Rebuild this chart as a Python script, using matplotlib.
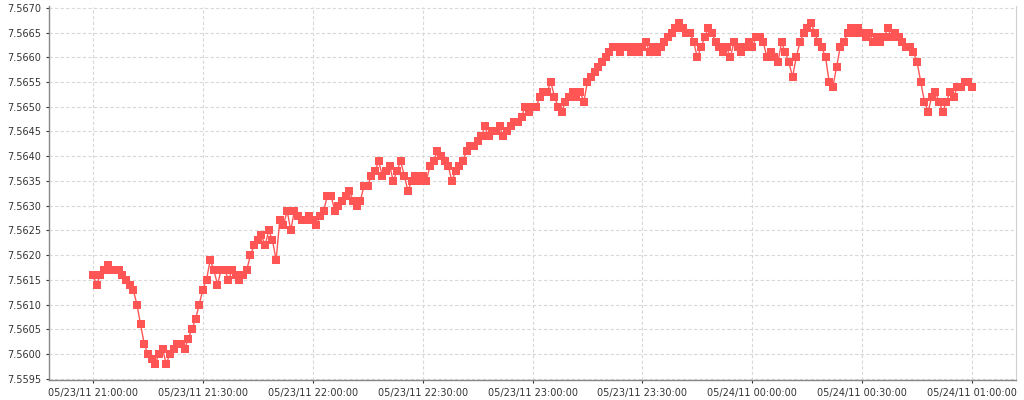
import datetime as dt

import matplotlib
matplotlib.use("Agg")
import matplotlib.pyplot as plt
import matplotlib.dates as mdates

# quote, one point per minute from 05/23/11 21:00
# stored as pips above 7.5600
start = dt.datetime(2011, 5, 23, 21, 0, 0)
pips = [
    16, 14, 16, 17, 18, 17, 17, 17, 16, 15,
    14, 13, 10, 6, 2, 0, -1, -2, 0, 1,
    -2, 0, 1, 2, 2, 1, 3, 5, 7, 10,
    13, 15, 19, 17, 14, 17, 17, 15, 17, 16,
    15, 16, 17, 20, 22, 23, 24, 22, 25, 23,
    19, 27, 26, 29, 25, 29, 28, 27, 27, 28,
    27, 26, 28, 29, 32, 32, 29, 30, 31, 32,
    33, 31, 30, 31, 34, 34, 36, 37, 39, 36,
    37, 38, 35, 37, 39, 36, 33, 35, 36, 35,
    36, 35, 38, 39, 41, 40, 39, 38, 35, 37,
    38, 39, 41, 42, 42, 43, 44, 46, 44, 45,
    45, 46, 44, 45, 46, 47, 47, 48, 50, 49,
    50, 50, 52, 53, 53, 55, 52, 50, 49, 51,
    52, 53, 52, 53, 51, 55, 56, 57, 58, 59,
    60, 61, 62, 62, 61, 62, 62, 61, 62, 61,
    62, 63, 61, 62, 61, 62, 63, 64, 65, 66,
    67, 66, 65, 65, 63, 60, 62, 64, 66, 65,
    63, 62, 61, 62, 60, 63, 62, 61, 62, 63,
    62, 64, 64, 63, 60, 61, 60, 59, 63, 61,
    59, 56, 60, 63, 65, 66, 67, 65, 63, 62,
    60, 55, 54, 58, 62, 63, 65, 66, 65, 66,
    65, 64, 65, 63, 64, 63, 64, 66, 64, 65,
    64, 63, 62, 62, 61, 59, 55, 51, 49, 52,
    53, 51, 49, 51, 53, 52, 54, 54, 55, 55,
    54,
]
y_ticks = [7.5595 + 0.0005 * i for i in range(16)]

times = [start + dt.timedelta(minutes=i) for i in range(len(pips))]
values = [7.56 + p * 0.0001 for p in pips]

fig = plt.figure(figsize=(10.24, 4.0), dpi=100)
ax = fig.add_axes([49 / 1024, 1 - 380 / 400, (1016 - 49) / 1024, (380 - 6.5) / 400])

ax.plot(times, values, color="#ff5555", linewidth=1.0, marker="s",
        markersize=6.0, markeredgewidth=0, zorder=3)

ax.set_xlim(start - dt.timedelta(minutes=12), start + dt.timedelta(hours=4, minutes=12))
ax.set_ylim(7.559474, 7.567026)
ax.set_yticks(y_ticks)
ax.yaxis.set_major_formatter(plt.FuncFormatter(lambda v, p: f"{v:.4f}"))
ax.xaxis.set_major_locator(mdates.MinuteLocator(byminute=[0, 30]))
ax.xaxis.set_major_formatter(mdates.DateFormatter("%m/%d/%y %H:%M:%S"))

ax.grid(True, color="#d8d8d8", linestyle=(0, (3, 2)), linewidth=0.8, zorder=0)
ax.tick_params(labelsize=7, colors="#333333", length=2, width=0.8)
for side in ("left", "bottom"):
    ax.spines[side].set_color("#888888")
    ax.spines[side].set_linewidth(1.0)
ax.spines["top"].set_visible(False)
ax.spines["right"].set_color("#d0d0d0")
ax.spines["right"].set_linewidth(0.8)

fig.savefig("out.png", dpi=100)
